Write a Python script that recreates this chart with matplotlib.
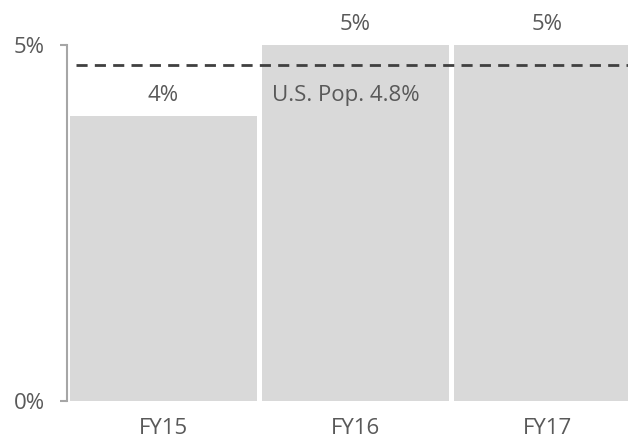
import matplotlib
matplotlib.use("Agg")
import matplotlib.pyplot as plt

categories = ["FY15", "FY16", "FY17"]
values = [4, 5, 5]
value_labels = ["4%", "5%", "5%"]
us_pop = 4.72
us_pop_label = "U.S. Pop. 4.8%"
ytick_vals = [0, 5]
ytick_labels = ["0%", "5%"]

plt.rcParams['font.family'] = ['Open Sans', 'DejaVu Sans']
txt = '#595959'
fs = 16

fig = plt.figure(figsize=(6.28, 4.46), dpi=100)
ax = fig.add_axes([67/628, 1 - 401/446, 1 - 67/628, 356/446])

x = list(range(len(categories)))
ax.bar(x, values, width=0.97, color='#d9d9d9', zorder=1)
ax.set_xlim(-0.503, 2.42)
ax.set_ylim(0, 5)

for xi, v, lab in zip(x, values, value_labels):
    ax.annotate(lab, (xi, v), xytext=(0, 15), textcoords='offset points',
                ha='center', va='center', fontsize=fs, color=txt, annotation_clip=False)

ax.plot([-0.455, 2.42], [us_pop, us_pop], linestyle=(0, (4, 2.6)), color='#404040',
        linewidth=2, zorder=3, clip_on=False)
ax.text(0.565, us_pop - 0.51, us_pop_label, ha='left', va='baseline', fontsize=fs, color=txt)

ax.set_yticks(ytick_vals)
ax.set_yticklabels(ytick_labels)
ax.set_xticks(x)
ax.set_xticklabels(categories)

for s in ['top', 'right', 'bottom']:
    ax.spines[s].set_visible(False)
ax.spines['left'].set_color('#a6a6a6')
ax.spines['left'].set_linewidth(1.5)
ax.tick_params(axis='y', length=5, width=1.5, color='#a6a6a6', labelsize=fs, labelcolor=txt, pad=11)
ax.tick_params(axis='x', length=0, labelsize=fs, labelcolor=txt, pad=12)

fig.savefig("out.png", dpi=100)
